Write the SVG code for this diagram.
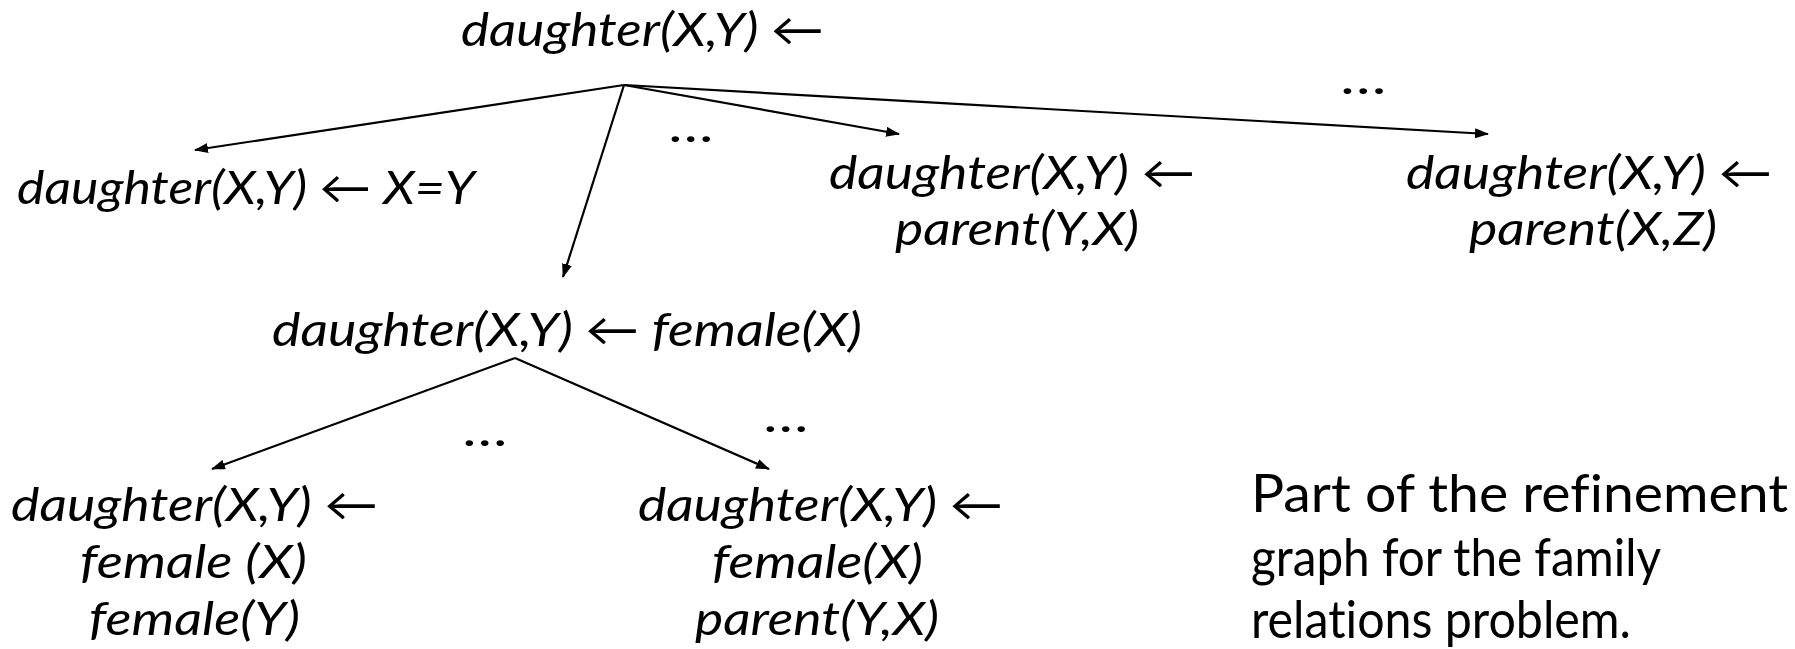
<svg xmlns="http://www.w3.org/2000/svg" width="1795" height="649" viewBox="0 0 1795 649">
<defs>
<style>
.t{font-family:Lato,"Open Sans","DejaVu Sans",sans-serif;font-style:italic;font-size:46px;fill:#000}
.c{font-family:Lato,"Open Sans","DejaVu Sans",sans-serif;font-size:52px;font-variant-ligatures:none;fill:#000}
.e{stroke:#000;stroke-width:2.2;fill:none;marker-end:url(#ah)}
</style>
<marker id="ah" viewBox="0 0 14 10" refX="13" refY="5" markerWidth="14" markerHeight="10" markerUnits="userSpaceOnUse" orient="auto">
<path d="M0,0 L14,5 L0,10 Z" fill="#000"/>
</marker>
</defs>
<rect width="1795" height="649" fill="#fff"/>
<g id="connectors">
<line class="e" x1="624" y1="85" x2="195" y2="150"/>
<line class="e" x1="624" y1="85" x2="563" y2="277"/>
<line class="e" x1="624" y1="85" x2="899" y2="134"/>
<line class="e" x1="624" y1="85" x2="1488" y2="134"/>
<line class="e" x1="515" y1="358" x2="212" y2="469"/>
<line class="e" x1="515" y1="358" x2="769" y2="469"/>
</g>
<g id="n-root"><text class="t" x="461" y="46" textLength="363" lengthAdjust="spacingAndGlyphs">daughter(X,Y) ←</text></g>
<g id="n-xy"><text class="t" x="17" y="204" textLength="458" lengthAdjust="spacingAndGlyphs">daughter(X,Y) ← X=Y</text></g>
<g id="n-parentYX"><text class="t" x="829" y="189" textLength="366" lengthAdjust="spacingAndGlyphs">daughter(X,Y) ←</text><text class="t" x="895" y="245" textLength="244" lengthAdjust="spacingAndGlyphs">parent(Y,X)</text></g>
<g id="n-parentXZ"><text class="t" x="1406" y="189" textLength="366" lengthAdjust="spacingAndGlyphs">daughter(X,Y) ←</text><text class="t" x="1469" y="245" textLength="248" lengthAdjust="spacingAndGlyphs">parent(X,Z)</text></g>
<g id="n-female"><text class="t" x="272" y="346" textLength="590" lengthAdjust="spacingAndGlyphs">daughter(X,Y) ← female(X)</text></g>
<g id="n-femaleXY"><text class="t" x="11" y="521" textLength="367" lengthAdjust="spacingAndGlyphs">daughter(X,Y) ←</text><text class="t" x="80" y="578" textLength="227" lengthAdjust="spacingAndGlyphs">female (X)</text><text class="t" x="89" y="635" textLength="211" lengthAdjust="spacingAndGlyphs">female(Y)</text></g>
<g id="n-femaleParent"><text class="t" x="638" y="521" textLength="365" lengthAdjust="spacingAndGlyphs">daughter(X,Y) ←</text><text class="t" x="712" y="578" textLength="211" lengthAdjust="spacingAndGlyphs">female(X)</text><text class="t" x="695" y="635" textLength="244" lengthAdjust="spacingAndGlyphs">parent(Y,X)</text></g>
<g id="dots">
<text class="t" x="670" y="142" textLength="45" lengthAdjust="spacingAndGlyphs">…</text>
<text class="t" x="1342" y="94" textLength="46" lengthAdjust="spacingAndGlyphs">…</text>
<text class="t" x="464" y="446" textLength="45" lengthAdjust="spacingAndGlyphs">…</text>
<text class="t" x="765" y="432" textLength="45" lengthAdjust="spacingAndGlyphs">…</text>
</g>
<g id="caption">
<text class="c" x="1251" y="512" textLength="537" lengthAdjust="spacingAndGlyphs">Part of the refinement</text>
<text class="c" x="1251" y="576" textLength="410" lengthAdjust="spacingAndGlyphs">graph for the family</text>
<text class="c" x="1251" y="638" textLength="380" lengthAdjust="spacingAndGlyphs">relations problem.</text>
</g>
</svg>
